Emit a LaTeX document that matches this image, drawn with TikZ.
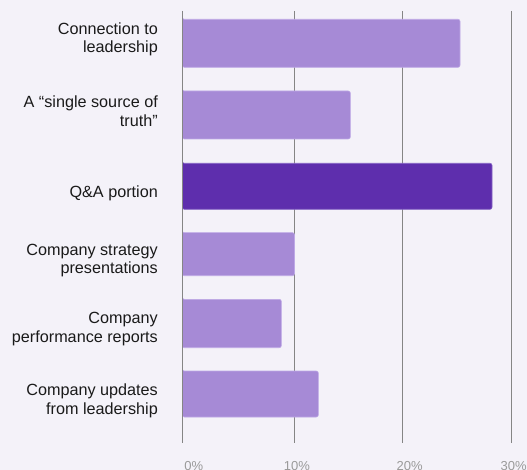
\documentclass[tikz,border=0pt]{standalone}
\usepackage{fontspec}
\setmainfont{Liberation Sans}
\definecolor{bgc}{HTML}{F4F2F9}
\definecolor{barlight}{HTML}{A68AD6}
\definecolor{barlightedge}{HTML}{BEA9E6}
\definecolor{bardark}{HTML}{5E2EAD}
\definecolor{bardarkedge}{HTML}{8462C4}
\definecolor{gridc}{HTML}{858585}
\definecolor{ticklbl}{HTML}{9A9A9A}
\definecolor{lblc}{HTML}{1A1A1A}
\begin{document}
\begin{tikzpicture}[x=1pt,y=-1pt,
  gridline/.style={draw=gridc,line width=1pt},
  barbox/.style={fill=barlight,draw=barlightedge,line width=0.6pt},
  bardarkbox/.style={fill=bardark,draw=bardarkedge,line width=0.6pt},
  cat/.style={anchor=base east,align=right,text=lblc,inner sep=0pt,font=\fontsize{16.2}{18.5}\selectfont},
  tick/.style={anchor=base,text=ticklbl,inner sep=0pt,font=\fontsize{13}{15}\selectfont}]
\fill[bgc] (0,0) rectangle (527,470);
\useasboundingbox (0,0) rectangle (527,470);
\clip (0,0) rectangle (527,470);
% gridlines
\coordinate (g0t) at (182.3,11); \coordinate (g0b) at (182.3,443);
\coordinate (g1t) at (294.3,11); \coordinate (g1b) at (294.3,443);
\coordinate (g2t) at (402.3,11); \coordinate (g2b) at (402.3,443);
\coordinate (g3t) at (511.3,11); \coordinate (g3b) at (511.3,443);
\draw[gridline] (g0t) -- (g0b);
\draw[gridline] (g1t) -- (g1b);
\draw[gridline] (g2t) -- (g2b);
\draw[gridline] (g3t) -- (g3b);
% bars
\draw[barbox,rounded corners=2pt] (182.3,19.3) -| (460,67.3) -| (182.3,19.3) -- cycle;
\draw[barbox,rounded corners=2pt] (182.3,91) -| (350.3,139) -| (182.3,91) -- cycle;
\draw[bardarkbox,rounded corners=2pt] (182.3,163.3) -| (492,209.3) -| (182.3,163.3) -- cycle;
\draw[barbox,rounded corners=2pt] (182.3,232.7) -| (294.5,275.7) -| (182.3,232.7) -- cycle;
\draw[barbox,rounded corners=2pt] (182.3,299.3) -| (281.3,347.7) -| (182.3,299.3) -- cycle;
\draw[barbox,rounded corners=2pt] (182.3,371) -| (318.3,417) -| (182.3,371) -- cycle;
\draw[gridline] (g0t) -- (g0b);
% category labels (anchor = baseline of the last line)
\node[cat] (l1) at (158,53) {Connection to\\leadership};
\node[cat] (l2) at (158,126.5) {A “single source of\\truth”};
\node[cat] (l3) at (158,198) {Q\&A portion};
\node[cat] (l4) at (158,273.5) {Company strategy\\presentations};
\node[cat] (l5) at (158,342.3) {Company\\performance reports};
\node[cat] (l6) at (158,414.3) {Company updates\\from leadership};
% tick labels
\node[tick] (t0) at (193.8,470.3) {0\%};
\node[tick] (t1) at (297,470.3) {10\%};
\node[tick] (t2) at (409.7,470.3) {20\%};
\node[tick] (t3) at (513.7,470.3) {30\%};
\end{tikzpicture}
\end{document}
